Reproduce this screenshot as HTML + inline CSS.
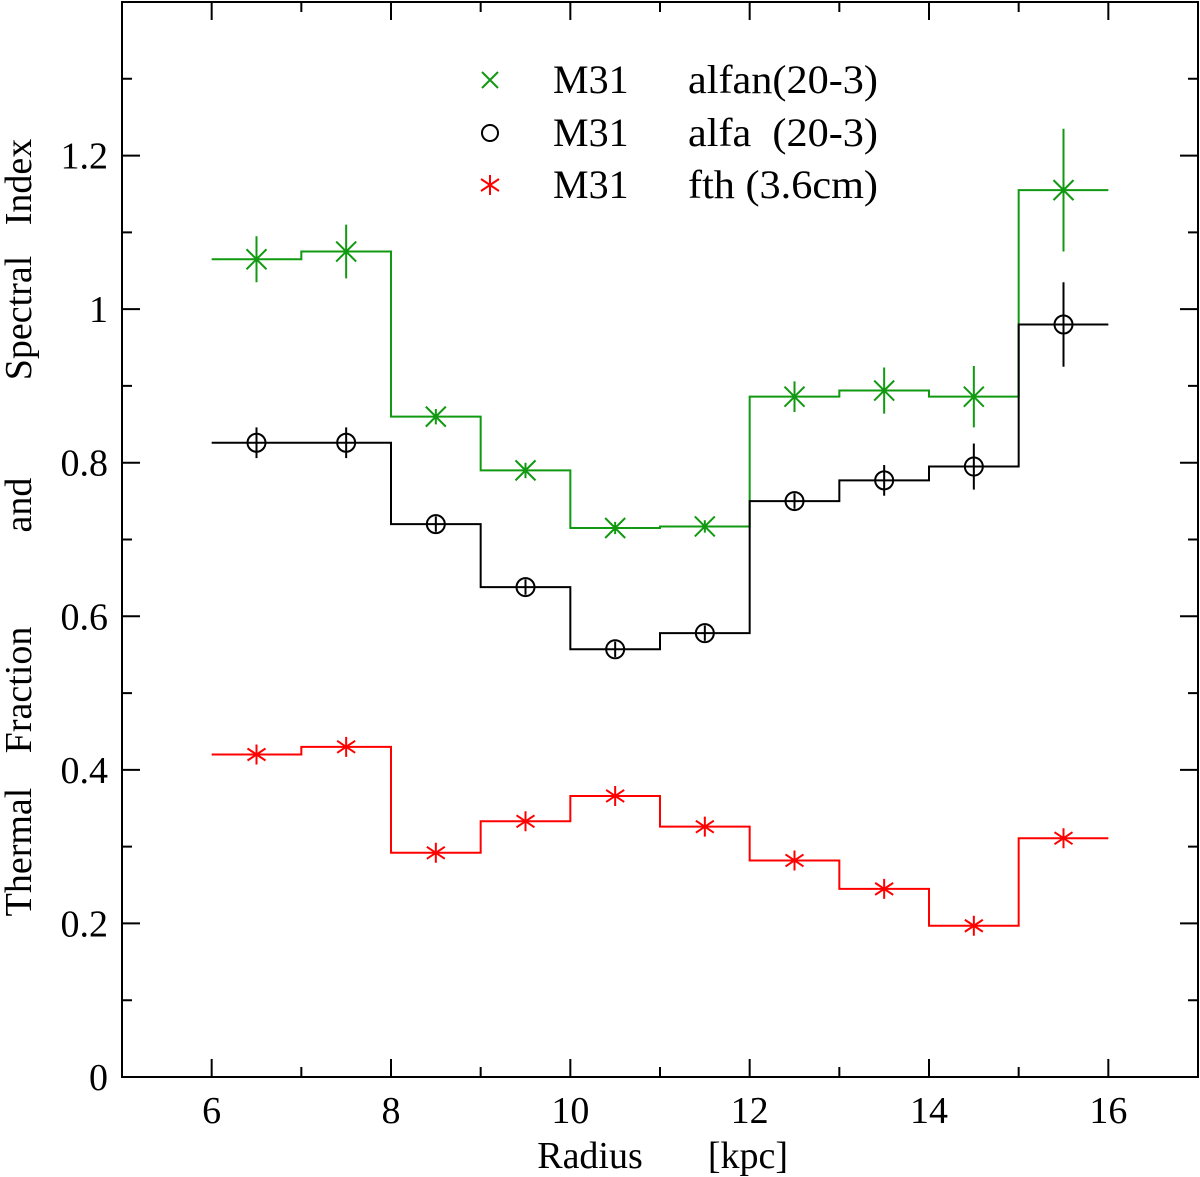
<!DOCTYPE html>
<html><head><meta charset="utf-8"><style>
html,body{margin:0;padding:0;background:#fff;}
svg{display:block;font-family:"Liberation Serif",serif;}
</style></head><body>
<svg id="chart" width="1200" height="1177" viewBox="0 0 1200 1177" xmlns="http://www.w3.org/2000/svg">
<rect x="122" y="2" width="1076" height="1075" fill="none" stroke="#000" stroke-width="2"/>
<g id="axes"></g>
<g id="series"></g>
<g font-size="40">
  <g>
    <path d="M482,72 L498,88 M482,88 L498,72" stroke="#119911" stroke-width="2"/>
    <text x="553" y="93">M31</text><text x="688" y="93" textLength="190" lengthAdjust="spacingAndGlyphs">alfan(20-3)</text>
  </g>
  <g>
    <circle cx="490" cy="133" r="8" fill="none" stroke="#000" stroke-width="2"/>
    <text x="553" y="146">M31</text><text x="688" y="146" xml:space="preserve" textLength="190" lengthAdjust="spacingAndGlyphs">alfa  (20-3)</text>
  </g>
  <g>
    <path d="M490,175 V195 M481,179 L499,191 M481,191 L499,179" stroke="#ff0000" stroke-width="2"/>
    <text x="553" y="198">M31</text><text x="688" y="198" textLength="190" lengthAdjust="spacingAndGlyphs">fth (3.6cm)</text>
  </g>
</g>
<g font-size="38" text-anchor="middle">
  <text x="590" y="1168">Radius</text><text x="748" y="1168">[kpc]</text>
</g>
<g font-size="38" text-anchor="middle">
  <text transform="translate(31,852) rotate(-90)">Thermal</text>
  <text transform="translate(31,690) rotate(-90)">Fraction</text>
  <text transform="translate(31,505) rotate(-90)">and</text>
  <text transform="translate(31,318) rotate(-90)">Spectral</text>
  <text transform="translate(31,182) rotate(-90)">Index</text>
</g>
</svg>
<script>
const radii = [6.5,7.5,8.5,9.5,10.5,11.5,12.5,13.5,14.5,15.5];
const alfan = [1.065,1.075,0.86,0.79,0.715,0.717,0.886,0.894,0.886,1.155];
const alfanErr = [0.03,0.035,0.01,0.01,0.008,0.008,0.02,0.03,0.04,0.08];
const alfa = [0.826,0.826,0.72,0.638,0.557,0.578,0.75,0.777,0.795,0.98];
const alfaErr = [0.02,0.02,0.01,0.01,0.01,0.01,0.01,0.02,0.03,0.055];
const fth = [0.42,0.43,0.292,0.333,0.366,0.326,0.282,0.245,0.197,0.311];
const xTicks = [6,8,10,12,14,16];
const yTicks = [0,0.2,0.4,0.6,0.8,1,1.2];
const yTickLabels = ["0","0.2","0.4","0.6","0.8","1","1.2"];
const binWidth = 1;

const NS="http://www.w3.org/2000/svg";
const X = v => 122 + (v-5)*(1076/12);
const Y = v => 1077 - v*(1075/1.4);
const axes=document.getElementById('axes'), ser=document.getElementById('series');
function mk(tag, attrs, parent){const e=document.createElementNS(NS,tag);for(const k in attrs)e.setAttribute(k,attrs[k]);parent.appendChild(e);return e;}

for(let v=5; v<=17; v+=1){
  const major = v%2===0;
  const L = major?18:10;
  const t=mk('path',{d:`M${X(v)},1077 V${1077-L} M${X(v)},2 V${2+L}`,stroke:'#000','stroke-width':2},axes);
  
  
}
xTicks.forEach(v=>{
  const t=mk('text',{x:X(v),y:1123,'font-size':38,'text-anchor':'middle'},axes);
  t.textContent=v;
  
  
});
for(let i=0;i<=14;i++){
  const v=i/10, major=i%2===0, L=major?18:10;
  const t=mk('path',{d:`M122,${Y(v)} H${122+L} M1198,${Y(v)} H${1198-L}`,stroke:'#000','stroke-width':2},axes);
  
  
}
yTicks.forEach((v,i)=>{
  const t=mk('text',{x:108,y:Y(v)+13,'font-size':38,'text-anchor':'end'},axes);
  t.textContent=yTickLabels[i];
  
  
});

function stepPath(vals){
  let d='';
  radii.forEach((r,i)=>{
    const x0=X(r-binWidth/2), x1=X(r+binWidth/2), y=Y(vals[i]);
    d += (i===0?`M${x0},${y}`:`L${x0},${y}`) + ` L${x1},${y}`;
  });
  return d;
}
function series(vals, errs, color, kind, name){
  const g=mk('g',{},ser);
  
  
  const p=mk('path',{d:stepPath(vals),fill:'none',stroke:color,'stroke-width':2},g);
  
  
  radii.forEach((r,i)=>{
    const cx=X(r), cy=Y(vals[i]);
    let d='';
    if(errs) d+=`M${cx},${Y(vals[i]+errs[i])} V${Y(vals[i]-errs[i])} `;
    if(kind==='x') d+=`M${cx-10},${cy-10} L${cx+10},${cy+10} M${cx-10},${cy+10} L${cx+10},${cy-10}`;
    if(kind==='star') d+=`M${cx},${cy-10} V${cy+10} M${cx-9},${cy-6} L${cx+9},${cy+6} M${cx-9},${cy+6} L${cx+9},${cy-6}`;
    const m=mk('path',{d:d,stroke:color,'stroke-width':2,fill:'none'},g);
    
    
    if(kind==='circle'){
      const c=mk('circle',{cx:cx,cy:cy,r:9,fill:'none',stroke:color,'stroke-width':2},g);
      
      
    }
  });
}
series(alfan, alfanErr, '#119911', 'x', 'alfan');
series(alfa, alfaErr, '#000', 'circle', 'alfa');
series(fth, null, '#ff0000', 'star', 'fth');
</script>
</body></html>
